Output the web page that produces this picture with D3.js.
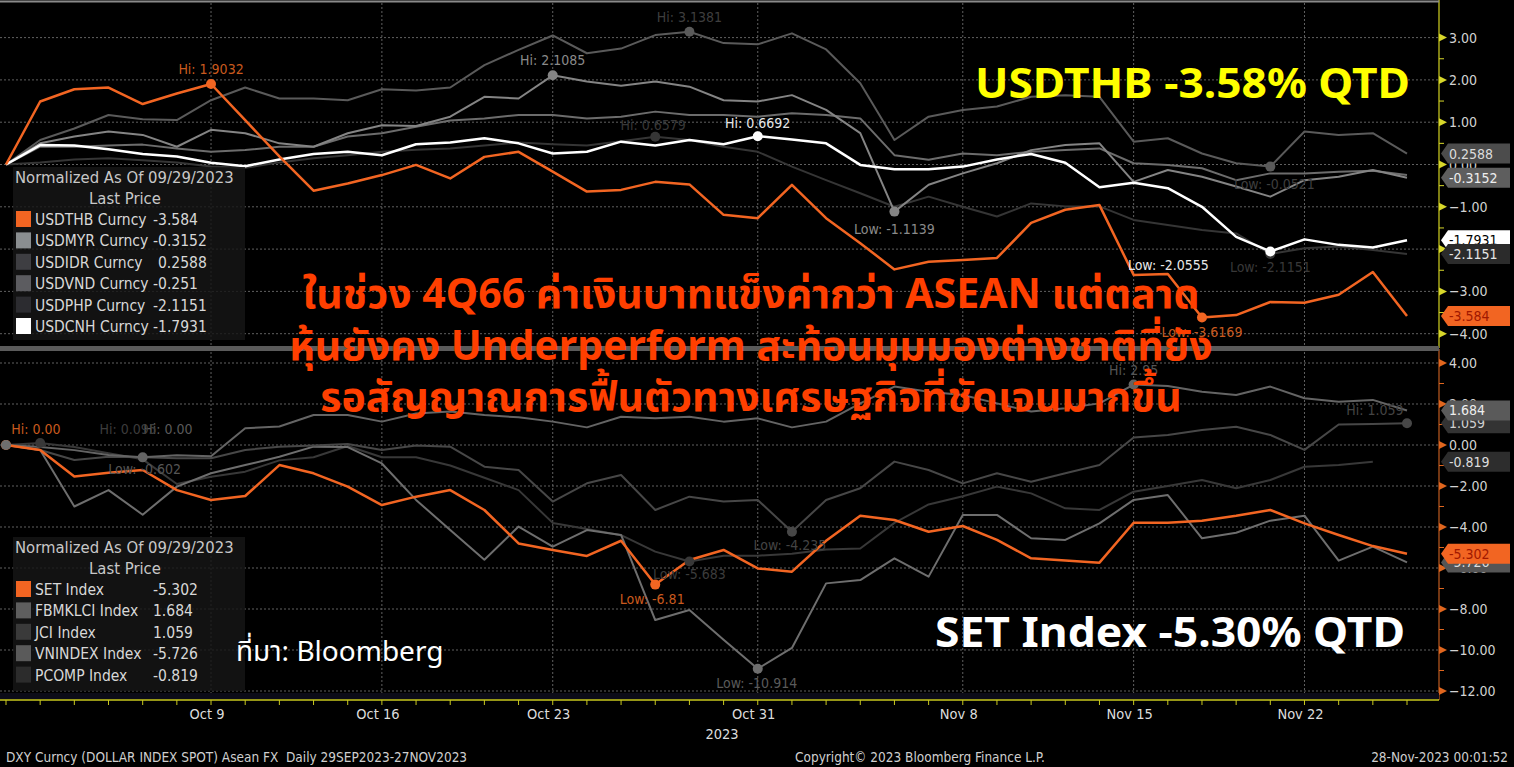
<!DOCTYPE html>
<html>
<head>
<meta charset="utf-8">
<script src="https://cdn.jsdelivr.net/npm/d3@7"></script>
<style>
  html, body { margin: 0; padding: 0; background: #000; overflow: hidden; }
  svg { display: block; }
  .cond { font-family: "DejaVu Sans Condensed", "Liberation Sans Narrow", "DejaVu Sans", sans-serif; font-stretch: condensed; }
</style>
</head>
<body>
<svg id="chart" width="1514" height="767"></svg>
<script>
// trading days on the x axis
const dates = ["2023-09-29",
  "2023-10-02","2023-10-03","2023-10-04","2023-10-05","2023-10-06",
  "2023-10-09","2023-10-10","2023-10-11","2023-10-12","2023-10-13",
  "2023-10-16","2023-10-17","2023-10-18","2023-10-19","2023-10-20",
  "2023-10-23","2023-10-24","2023-10-25","2023-10-26","2023-10-27",
  "2023-10-30","2023-10-31","2023-11-01","2023-11-02","2023-11-03",
  "2023-11-06","2023-11-07","2023-11-08","2023-11-09","2023-11-10",
  "2023-11-13","2023-11-14","2023-11-15","2023-11-16","2023-11-17",
  "2023-11-20","2023-11-21","2023-11-22","2023-11-23","2023-11-24",
  "2023-11-27"];
const tickDates = ["2023-10-09","2023-10-16","2023-10-23","2023-10-31","2023-11-08","2023-11-15","2023-11-22"];
const tickLabels = ["Oct 9","Oct 16","Oct 23","Oct 31","Nov 8","Nov 15","Nov 22"];

// top panel: currencies, % change normalized to 09/29/2023
const fxNames = ["USDTHB Curncy","USDMYR Curncy","USDIDR Curncy","USDVND Curncy","USDPHP Curncy","USDCNH Curncy"];
const fxLast = ["-3.584","-0.3152"," 0.2588","-0.251","-2.1151","-1.7931"];
const usdthb = [0,1.49,1.78,1.82,1.43,1.68,1.9032,1.05,0.19,-0.62,-0.45,-0.25,-0.01,-0.33,0.18,0.30,-0.17,-0.64,-0.60,-0.41,-0.47,-1.19,-1.27,-0.48,-1.27,-1.86,-2.48,-2.30,-2.26,-2.21,-1.38,-1.07,-0.96,-2.61,-2.59,-3.6169,-3.56,-3.25,-3.27,-3.08,-2.54,-3.584];
const usdmyr = [0,0.50,0.66,0.78,0.70,0.42,0.82,0.74,0.50,0.42,0.74,0.93,0.91,1.13,1.60,1.56,2.1085,1.96,1.86,1.96,1.84,1.52,1.49,1.64,1.29,0.74,-1.1139,-0.48,-0.21,0.03,0.34,0.46,0.50,-0.41,-0.13,-0.29,-0.52,-0.76,-0.37,-0.29,-0.13,-0.3152];
const usdidr = [0,0.58,0.85,1.17,1.07,1.05,1.52,1.82,1.56,1.56,1.52,1.78,1.75,1.82,2.35,2.71,3.05,2.63,2.74,3.06,3.1381,2.87,2.84,3.10,2.72,1.92,0.58,1.13,1.29,1.37,1.60,1.64,1.60,0.54,0.62,0.26,0.03,-0.05,0.78,0.70,0.74,0.2588];
const usdvnd = [0,0.42,0.42,0.45,0.47,0.38,0.30,0.34,0.42,0.42,0.66,0.74,0.89,1.04,1.09,1.17,1.17,1.09,1.13,1.25,1.17,1.17,1.13,1.21,1.17,1.09,0.22,0.11,0.26,0.22,0.30,0.34,0.38,0.03,-0.01,-0.09,-0.37,-0.21,-0.21,-0.17,-0.15,-0.251];
const usdphp = [0,0.05,0.12,0.15,0.10,0.05,-0.05,-0.08,0.05,0.15,0.22,0.30,0.35,0.38,0.45,0.52,0.48,0.45,0.55,0.6579,0.58,0.42,0.30,-0.05,-0.37,-0.68,-1.00,-0.76,-1.00,-1.23,-0.92,-0.99,-0.99,-1.31,-1.43,-1.55,-1.63,-2.1151,-1.98,-1.94,-2.02,-2.1151];
const usdcnh = [0,0.46,0.45,0.36,0.25,0.19,0.04,-0.04,0.12,0.25,0.30,0.22,0.48,0.52,0.62,0.50,0.26,0.30,0.54,0.45,0.58,0.48,0.6692,0.59,0.50,-0.01,-0.11,-0.11,-0.05,0.12,0.25,0.04,-0.54,-0.43,-0.56,-1.00,-1.71,-2.0555,-1.77,-1.90,-1.96,-1.7931];

// bottom panel: stock indices
const eqNames = ["SET Index","FBMKLCI Index","JCI Index","VNINDEX Index","PCOMP Index"];
const eqLast = ["-5.302","1.684","1.059","-5.726","-0.819"];
const setIdx = [0,-0.24,-1.54,-1.35,-1.22,-2.20,-2.68,-2.49,-0.98,-1.38,-2.03,-2.93,-2.52,-2.20,-3.17,-4.80,-5.12,-5.41,-4.67,-6.81,-5.61,-5.12,-6.02,-6.18,-4.67,-3.45,-3.66,-4.23,-3.95,-4.63,-5.53,-5.64,-5.74,-3.79,-3.79,-3.69,-3.45,-3.17,-3.82,-4.39,-4.93,-5.302];
const fbmklci = [0,-0.10,-0.25,-0.49,-0.602,-0.50,-0.55,0.82,0.90,1.46,1.46,1.14,1.54,1.63,1.46,1.35,1.14,0.86,1.38,1.30,1.38,1.14,1.30,0.86,1.14,2.03,2.85,2.60,2.44,2.03,1.63,1.79,2.03,2.95,2.88,2.60,2.44,2.85,2.28,2.11,2.20,1.684];
const jci = [0,-0.24,-0.73,-0.57,-0.60,-0.65,-0.65,-0.24,-0.08,-0.02,0.05,-0.24,-0.02,-0.08,-1.06,-1.22,-2.76,-1.87,-1.46,-3.17,-2.52,-2.76,-2.68,-4.235,-2.68,-2.11,-0.81,-1.22,-1.87,-1.38,-1.79,-1.38,-0.98,0.37,0.49,0.73,0.89,0.49,-0.24,1.00,1.02,1.059];
const vnindex = [0,-0.24,-3.00,-2.20,-3.40,-2.03,-1.38,-0.98,-0.57,-0.08,-0.10,-0.90,-2.68,-4.15,-5.60,-3.98,-4.96,-4.15,-4.39,-8.54,-8.05,-9.50,-10.914,-9.90,-6.75,-6.59,-5.53,-6.42,-3.41,-3.41,-4.55,-4.63,-3.82,-2.68,-2.44,-4.55,-4.28,-3.69,-3.45,-5.64,-4.96,-5.726];
const pcomp = [0,0.095,-0.10,-0.40,-0.70,-1.90,-1.55,-1.30,-0.75,-0.60,-0.05,-0.60,-0.60,-1.00,-1.60,-2.20,-3.80,-4.10,-4.40,-5.20,-5.683,-5.40,-5.40,-5.30,-5.10,-5.05,-3.80,-2.90,-2.50,-2.03,-2.36,-3.09,-3.17,-2.28,-2.00,-1.71,-2.11,-1.71,-1.06,-0.98,-0.819,null];

// high / low markers shown on the chart
const fxMarks = [
  {s: 0, i: 6,  text: "Hi: 1.9032",  dx: 0,    dy: -10},
  {s: 0, i: 35, text: "Low: -3.6169", dx: 0,   dy: 20},
  {s: 1, i: 16, text: "Hi: 2.1085",  dx: 0,    dy: -10},
  {s: 1, i: 26, text: "Low: -1.1139", dx: 0,   dy: 22},
  {s: 2, i: 20, text: "Hi: 3.1381",  dx: 0,    dy: -10},
  {s: 2, i: 37, text: "Low: -0.0521", dx: 4,   dy: 22},
  {s: 4, i: 19, text: "Hi: 0.6579",  dx: -2,   dy: -7},
  {s: 4, i: 37, text: "Low: -2.1151", dx: 0,   dy: 18},
  {s: 5, i: 22, text: "Hi: 0.6692",  dx: 0,    dy: -8},
  {s: 5, i: 37, text: "Low: -2.0555", dx: -102, dy: 19}
];
const eqMarks = [
  {s: 0, i: 0,  text: "Hi: 0.00",    dx: 30,  dy: -11},
  {s: 0, i: 19, text: "Low: -6.81",  dx: -3,  dy: 19},
  {s: 1, i: 4,  text: "Low: -0.602", dx: 2,   dy: 17},
  {s: 1, i: 33, text: "Hi: 2.95",    dx: 0,   dy: -10},
  {s: 2, i: 23, text: "Low: -4.235", dx: -2,  dy: 18},
  {s: 2, i: 41, text: "Hi: 1.059",   dx: -32, dy: -8},
  {s: 3, i: 0,  text: "Hi: 0.00",    dx: 162, dy: -11},
  {s: 3, i: 22, text: "Low: -10.914", dx: -1, dy: 19},
  {s: 4, i: 1,  text: "Hi: 0.095",   dx: 88,  dy: -9},
  {s: 4, i: 20, text: "Low: -5.683", dx: 0,   dy: 17}
];

const svg = d3.select("#chart").attr("class", "cond");
const axisX = 1439;
const orange = "#f26522";

const x = d3.scaleLinear().domain([0, dates.length - 1]).range([6, 1407]);
const idxOf = d => dates.indexOf(d);

svg.append("rect").attr("width", 1514).attr("height", 767).attr("fill", "#000");

const panels = [
  {
    top: 3, bottom: 345,
    y: d3.scaleLinear().domain([-4, 3]).range([333.7, 37.6]),
    major: d3.range(-4, 4, 1), minor: d3.range(-3.5, 3.5, 1),
    fmt: d3.format(".2f"),
    axisColor: "#a8a81a", tickColor: "#d7d72a",
    series: [usdthb, usdmyr, usdidr, usdvnd, usdphp, usdcnh],
    colors: [orange, "#848484", "#5a5a5a", "#6c6c6c", "#353535", "#ffffff"],
    swatch: [orange, "#8a8e90", "#3e3e42", "#5c5c60", "#2c2c30", "#ffffff"],
    labelColors: ["#c95a1e", "#8a8a8a", "#3e3e3e", "#666", "#383838", "#e8e8e8"],
    drawOrder: [4, 3, 2, 1, 5, 0],
    widths: [2.5, 2, 2, 2, 2, 2.5],
    names: fxNames, last: fxLast, marks: fxMarks,
    legend: {x: 13, y: 167, h: 173},
    tags: [
      {s: 5, fill: "#ffffff", text: "#000"},
      {s: 4, fill: "#2b2b2b", text: "#e6e6e6"},
      {s: 2, fill: "#4c4c4c", text: "#dcdcdc"},
      {s: 1, fill: "#5e5e5e", text: "#eeeeee"},
      {s: 0, fill: orange, text: "#a01800"}
    ]
  },
  {
    top: 352, bottom: 697,
    y: d3.scaleLinear().domain([-12, 4]).range([691, 363]),
    major: d3.range(-12, 5, 2), minor: d3.range(-11, 4, 2),
    fmt: d3.format(".2f"),
    axisColor: "#9a4a1a", tickColor: "#e0661e",
    series: [setIdx, fbmklci, jci, vnindex, pcomp],
    colors: [orange, "#646464", "#474747", "#6e6e6e", "#383838"],
    swatch: [orange, "#5e5e5e", "#3a3a3a", "#5a5a5a", "#2c2c2c"],
    labelColors: ["#c95a1e", "#555", "#444", "#5a5a5a", "#3c3c3c"],
    drawOrder: [4, 3, 2, 1, 0],
    widths: [2.5, 2, 2, 2, 2],
    names: eqNames, last: eqLast, marks: eqMarks,
    legend: {x: 13, y: 537, h: 154},
    tags: [
      {s: 2, fill: "#333333", text: "#d0d0d0"},
      {s: 1, fill: "#5a5a5a", text: "#eeeeee"},
      {s: 4, fill: "#2d2d2d", text: "#dddddd"},
      {s: 3, fill: "#555555", text: "#dddddd"},
      {s: 0, fill: orange, text: "#a01800"}
    ]
  }
];

panels.forEach(p => {
  const g = svg.append("g");
  const y = p.y;

  // dotted grid
  g.selectAll(".hg").data(p.major).join("line")
    .attr("x1", 0).attr("x2", axisX)
    .attr("y1", d => y(d)).attr("y2", d => y(d))
    .attr("stroke", "#606060").attr("stroke-width", 1).attr("stroke-dasharray", "2,2");
  g.selectAll(".vg").data(tickDates).join("line")
    .attr("x1", d => x(idxOf(d))).attr("x2", d => x(idxOf(d)))
    .attr("y1", p.top).attr("y2", p.bottom)
    .attr("stroke", "#606060").attr("stroke-width", 1).attr("stroke-dasharray", "2,2");

  // series lines
  const line = d3.line().defined(d => d != null).x((d, i) => x(i)).y(d => y(d));
  p.drawOrder.forEach(s => {
    g.append("path").datum(p.series[s])
      .attr("fill", "none").attr("stroke", p.colors[s])
      .attr("stroke-width", p.widths[s]).attr("stroke-linejoin", "round")
      .attr("d", line);
  });

  // hi / lo markers
  p.marks.forEach(m => {
    const v = p.series[m.s][m.i];
    g.append("circle").attr("cx", x(m.i)).attr("cy", y(v)).attr("r", 5)
      .attr("fill", p.colors[m.s]);
    g.append("text").attr("x", x(m.i) + m.dx).attr("y", y(v) + m.dy)
      .attr("text-anchor", "middle").attr("font-size", 14)
      .attr("fill", p.labelColors[m.s]).text(m.text);
  });

  // right axis
  g.append("line").attr("x1", axisX).attr("x2", axisX)
    .attr("y1", p.top - 3).attr("y2", p.bottom + 3)
    .attr("stroke", p.axisColor).attr("stroke-width", 1.5);
  g.selectAll(".mt").data(p.minor).join("line")
    .attr("x1", axisX).attr("x2", axisX + 5)
    .attr("y1", d => y(d)).attr("y2", d => y(d))
    .attr("stroke", p.tickColor).attr("stroke-width", 1);
  g.selectAll(".tk").data(p.major).join("path")
    .attr("d", d => `M${axisX},${y(d) - 4}L${axisX + 8},${y(d)}L${axisX},${y(d) + 4}Z`)
    .attr("fill", p.tickColor);
  g.selectAll(".tl").data(p.major).join("text")
    .attr("x", axisX + 10).attr("y", d => y(d) + 5)
    .attr("font-size", 14).attr("fill", "#d2d2d2")
    .text(d => p.fmt(d));

  // last value tags
  p.tags.forEach(t => {
    const data = p.series[t.s];
    let v = data[data.length - 1];
    if (v == null) v = data[data.length - 2];
    const yy = y(v);
    g.append("path")
      .attr("d", `M${axisX + 2},${yy}L${axisX + 9},${yy - 10}L1510,${yy - 10}L1510,${yy + 10}L${axisX + 9},${yy + 10}Z`)
      .attr("fill", t.fill);
    g.append("text").attr("x", axisX + 10).attr("y", yy + 5)
      .attr("font-size", 14).attr("fill", t.text)
      .text(p.last[t.s]);
  });

  // legend
  const L = p.legend;
  const lg = g.append("g").attr("transform", `translate(${L.x},${L.y})`);
  lg.append("rect").attr("width", 232).attr("height", L.h)
    .attr("fill", "#161616").attr("fill-opacity", 0.82);
  lg.append("text").attr("x", 2).attr("y", 16).attr("font-size", 16.5)
    .attr("fill", "#c8c8c8").text("Normalized As Of 09/29/2023");
  lg.append("text").attr("x", 112).attr("y", 37).attr("font-size", 16.5)
    .attr("text-anchor", "middle").attr("fill", "#c8c8c8").text("Last Price");
  const rows = lg.selectAll(".row").data(p.names).join("g")
    .attr("transform", (d, i) => `translate(0,${44 + i * 21.4})`);
  rows.append("rect").attr("x", 3).attr("y", 0).attr("width", 15).attr("height", 16)
    .attr("fill", (d, i) => p.swatch[i]);
  rows.append("text").attr("x", 22).attr("y", 14).attr("font-size", 15.5)
    .attr("fill", "#d8d8d8").text(d => d);
  rows.append("text").attr("x", (d, i) => p.last[i].startsWith(" ") ? 145 : 140).attr("y", 14)
    .attr("font-size", 15.5).attr("fill", "#d8d8d8").text((d, i) => p.last[i].trim());
});

// panel frame lines
svg.append("line").attr("x1", 0).attr("x2", axisX).attr("y1", 1.5).attr("y2", 1.5)
  .attr("stroke", "#8a8a8a").attr("stroke-width", 2);
svg.append("rect").attr("x", 0).attr("y", 346).attr("width", axisX).attr("height", 5)
  .attr("fill", "#5a5a5a");

// bottom date axis
const xa = svg.append("g");
xa.append("rect").attr("x", 0).attr("y", 693).attr("width", axisX).attr("height", 6)
  .attr("fill", "#0c0c18");
xa.append("line").attr("x1", 0).attr("x2", axisX).attr("y1", 700).attr("y2", 700)
  .attr("stroke", "#c8c81e").attr("stroke-width", 1.5);
xa.selectAll(".dt").data(dates).join("line")
  .attr("x1", (d, i) => x(i)).attr("x2", (d, i) => x(i))
  .attr("y1", 700).attr("y2", 705)
  .attr("stroke", "#c8c81e").attr("stroke-width", 1);
xa.selectAll(".dl").data(tickDates).join("text")
  .attr("x", d => x(idxOf(d)) - 4).attr("y", 719)
  .attr("text-anchor", "middle").attr("font-size", 14.5).attr("fill", "#dcdcdc")
  .text((d, i) => tickLabels[i]);
xa.append("text").attr("x", 722).attr("y", 739).attr("text-anchor", "middle")
  .attr("font-size", 14.5).attr("fill", "#dcdcdc").text("2023");

// footer
svg.append("text").attr("x", 6).attr("y", 762).attr("font-size", 13.5).attr("fill", "#cfcfcf")
  .attr("xml:space", "preserve").text("DXY Curncy (DOLLAR INDEX SPOT) Asean FX  Daily 29SEP2023-27NOV2023");
svg.append("text").attr("x", 795).attr("y", 762).attr("font-size", 13.5).attr("fill", "#cfcfcf")
  .text("Copyright\u00a9 2023 Bloomberg Finance L.P.");
svg.append("text").attr("x", 1508).attr("y", 762).attr("text-anchor", "end").attr("font-size", 13.5)
  .attr("fill", "#cfcfcf").text("28-Nov-2023 00:01:52");

// annotations
const big = svg.append("g").style("font-family", "'Noto Sans', 'Noto Sans Thai', sans-serif");
big.append("text").attr("x", 975).attr("y", 98).attr("font-size", 42).attr("font-weight", 700)
  .attr("fill", "#ffff00").attr("textLength", 435).attr("lengthAdjust", "spacingAndGlyphs")
  .text("USDTHB -3.58% QTD");
big.append("text").attr("x", 935).attr("y", 647).attr("font-size", 42).attr("font-weight", 700)
  .attr("fill", "#ffffff").attr("textLength", 470).attr("lengthAdjust", "spacingAndGlyphs")
  .text("SET Index -5.30% QTD");
const thai = ["ในช่วง 4Q66 ค่าเงินบาทแข็งค่ากว่า ASEAN แต่ตลาด",
              "หุ้นยังคง Underperform สะท้อนมุมมองต่างชาติที่ยัง",
              "รอสัญญาณการฟื้นตัวทางเศรษฐกิจที่ชัดเจนมากขึ้น"];
big.selectAll(".th").data(thai).join("text")
  .attr("x", 751).attr("y", (d, i) => 308 + i * 51.5)
  .attr("text-anchor", "middle").attr("font-size", 41).attr("font-weight", 700)
  .attr("fill", "#ff3f00").text(d => d);
big.append("text").attr("x", 236).attr("y", 661).attr("font-size", 28)
  .attr("fill", "#ffffff").text("ที่มา: Bloomberg");
</script>
</body>
</html>
